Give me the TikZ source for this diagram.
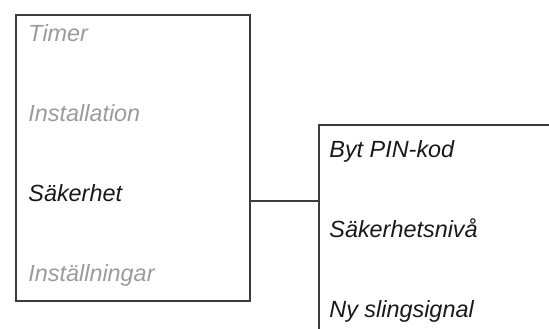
\documentclass[tikz,border=0pt]{standalone}
\usepackage{fontspec}
\setmainfont{Liberation Sans}
\usepackage{tikz}
\usetikzlibrary{positioning}
\usepackage{xcolor}

\definecolor{linegray}{RGB}{60,60,60}
\definecolor{offgray}{RGB}{155,155,155}
\definecolor{ongray}{RGB}{25,25,25}

\begin{document}
\begin{tikzpicture}[
		x=0.5pt, y=-0.5pt,
		menubox/.style={
			rectangle,
			draw=linegray,
			line width=0.75pt,
			inner sep=0pt,
			anchor=north west
		},
		item/.style={
			anchor=base west,
			inner sep=0pt,
			font=\fontsize{11.7}{14}\selectfont\itshape
		},
		off/.style={item, text=offgray},
		on/.style={item, text=ongray},
		link/.style={
			draw=linegray,
			line width=0.75pt
		}
		]
		
		\useasboundingbox (0,0) rectangle (549,328);
		\clip (0,0) rectangle (549,328);
		
		% main menu
		\node[menubox, minimum width=117pt, minimum height=143pt] (menu) at (15,14) {};
		
		\node[off] (timer) at (28,41) {Timer};
		\node[off] (install) at (28,121) {Installation};
		\node[on] (sakerhet) at (28,201) {Säkerhet};
		\node[off] (settings) at (28,281) {Inställningar};
		
		% sub menu
		\node[menubox, minimum width=141pt, minimum height=113pt] (sub) at (318,124) {};
		
		\node[on] (pinkod) at (329,157) {Byt PIN-kod};
		\node[on] (niva) at (329,237) {Säkerhetsnivå};
		\node[on] (slinga) at (329,317) {Ny slingsignal};
		%--
		\draw[link] (menu.east |- sakerhet.base) -- (sub.west |- sakerhet.base);
		
	\end{tikzpicture}
\end{document}
